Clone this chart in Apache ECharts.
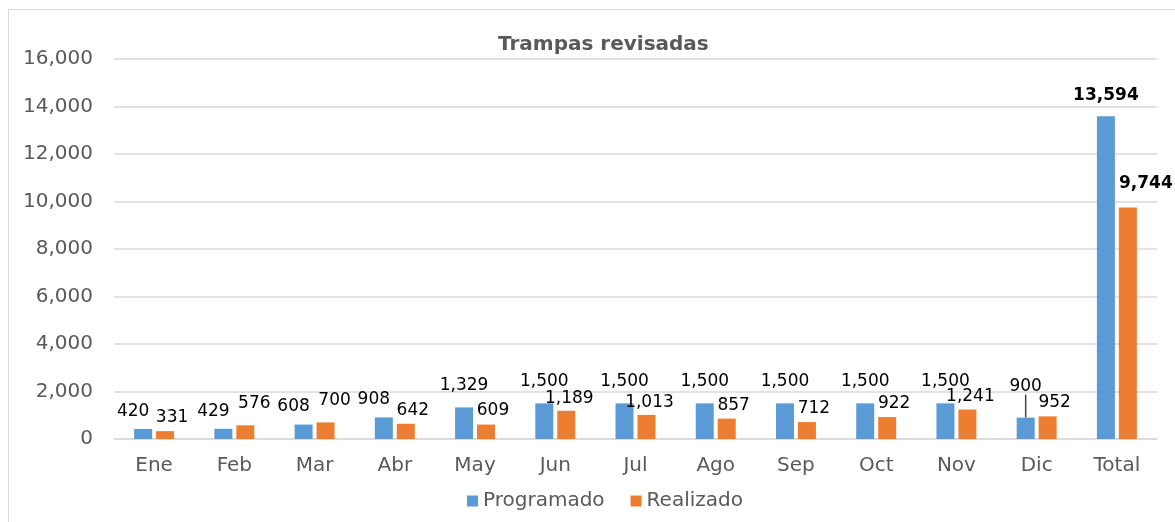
<!DOCTYPE html>
<html>
<head>
<meta charset="utf-8">
<script src="https://cdn.jsdelivr.net/npm/echarts@6/dist/echarts.min.js"></script>
<style>
  html, body { margin: 0; padding: 0; background: #fff; }
  #frame { position: absolute; left: 8px; top: 9px; width: 1180px; height: 520px; border: 1px solid #d9d9d9; box-sizing: border-box; }
  #chart { position: absolute; left: 0; top: 0; width: 1175px; height: 522px; }
</style>
</head>
<body>
<div id="frame"></div>
<div id="chart"></div>
<script>
const months = ['Ene', 'Feb', 'Mar', 'Abr', 'May', 'Jun', 'Jul', 'Ago', 'Sep', 'Oct', 'Nov', 'Dic', 'Total'];
const programado = [420, 429, 608, 908, 1329, 1500, 1500, 1500, 1500, 1500, 1500, 900, 13594];
const realizado = [331, 576, 700, 642, 609, 1189, 1013, 857, 712, 922, 1241, 952, 9744];

const FONT = 'DejaVu Sans';
const fmt = v => v.toLocaleString('en-US');
const last = months.length - 1;
const dic = months.indexOf('Dic');

function buildItems(values, withLeader) {
  return values.map((v, i) => {
    if (i === last) return { value: v, label: { fontWeight: 'bold', fontSize: 17 } };
    if (withLeader && i === dic) return { value: v, labelLine: { show: true } };
    return v;
  });
}

// labels nudged apart the way the spreadsheet spread them
function blueLayout(p) {
  const v = programado[p.dataIndex];
  if (p.dataIndex === dic) return { dy: -18 };
  if (p.dataIndex === last) return { dy: -7 };
  return v < 1000 ? { dx: -10, dy: -4 } : { dy: -8 };
}
function orangeLayout(p) {
  const i = p.dataIndex;
  const v = realizado[i];
  if (i === last) return { dx: 18, dy: -11 };
  if (i === 1 || i === 2) return { dx: 9, dy: -8 };
  return v < 1000 ? { dx: 7, dy: 0 } : { dx: 3, dy: 1 };
}

const chart = echarts.init(document.getElementById('chart'));
chart.setOption({
  animation: false,
  textStyle: { fontFamily: FONT },
  title: {
    text: 'Trampas revisadas',
    left: 493,
    top: 30,
    textStyle: { fontSize: 20, fontWeight: 'bold', color: '#595959', fontFamily: FONT }
  },
  legend: {
    bottom: 6,
    left: 462,
    itemWidth: 11,
    itemHeight: 11,
    itemGap: 26,
    icon: 'rect',
    textStyle: { fontSize: 20, color: '#595959', fontFamily: FONT }
  },
  grid: { left: 114, right: 18, top: 59, bottom: 83 },
  xAxis: {
    type: 'category',
    data: months,
    axisLine: { lineStyle: { color: '#d9d9d9', width: 1.5 } },
    axisTick: { show: false },
    axisLabel: { fontSize: 20, color: '#595959', margin: 17 }
  },
  yAxis: {
    type: 'value',
    min: 0,
    max: 16000,
    interval: 2000,
    axisLabel: { fontSize: 20, color: '#595959', margin: 21, formatter: fmt },
    splitLine: { lineStyle: { color: '#d9d9d9', width: 1.5 } }
  },
  series: [
    {
      name: 'Programado',
      type: 'bar',
      data: buildItems(programado, true),
      barWidth: 18,
      barGap: '22%',
      itemStyle: { color: '#5B9BD5' },
      label: {
        show: true,
        position: 'top',
        fontSize: 17,
        color: '#000',
        formatter: p => fmt(p.value)
      },
      labelLine: { show: false, lineStyle: { color: '#404040', width: 1.5 } },
      labelLayout: blueLayout
    },
    {
      name: 'Realizado',
      type: 'bar',
      data: buildItems(realizado, false),
      barWidth: 18,
      itemStyle: { color: '#ED7D31' },
      label: {
        show: true,
        position: 'top',
        fontSize: 17,
        color: '#000',
        formatter: p => fmt(p.value)
      },
      labelLayout: orangeLayout
    }
  ]
});
</script>
</body>
</html>
